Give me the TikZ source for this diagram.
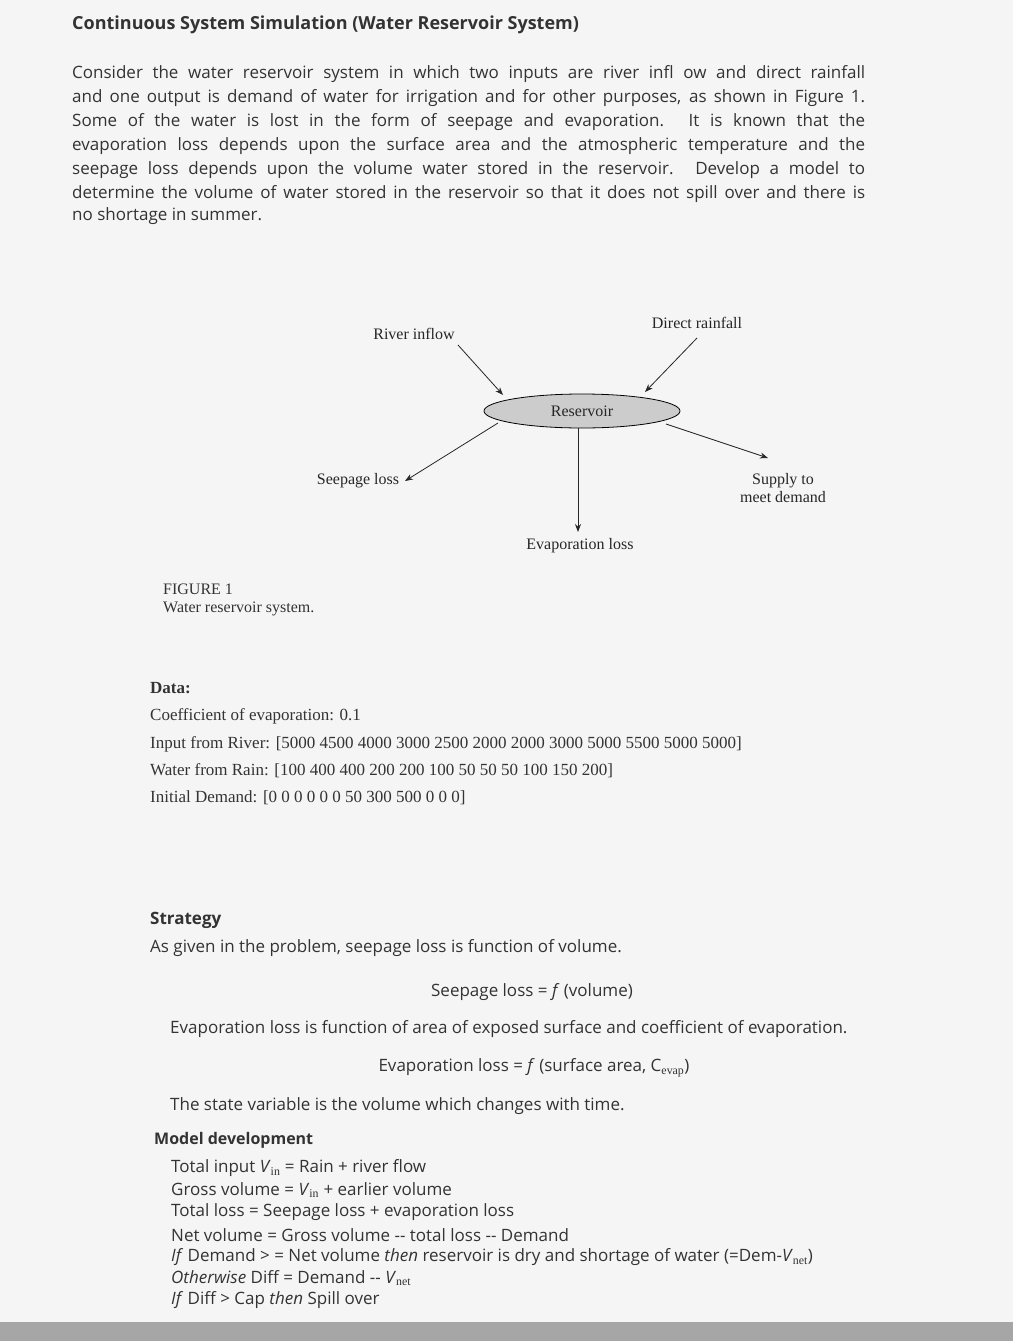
\documentclass[tikz,border=0pt]{standalone}
\usepackage{fontspec}
\setmainfont{Liberation Serif}
\newfontfamily\pf{Open Sans}
\usetikzlibrary{shapes.geometric,arrows.meta}
\newcommand{\jl}[1]{\makebox[793pt][s]{#1}}
\begin{document}
\begin{tikzpicture}[x=1pt,y=-1pt,
  para/.style={anchor=west,inner sep=0,font=\pf\fontsize{17}{20}\selectfont,text=black!80},
  dat/.style={anchor=west,inner sep=0,font=\fontsize{17}{20}\selectfont,text=black!80},
  lab/.style={inner sep=1pt,font=\fontsize{16}{18}\selectfont,text=black!85},
  arr/.style={-{Stealth[length=8pt]},thick,black!85}]
\fill[black!4] (0,0) rectangle (1013,1341);
\fill[black!35] (0,1322) rectangle (1013,1341);
\node[para,font=\pf\bfseries\fontsize{18}{20}\selectfont] (title) at (72,25) {Continuous System Simulation (Water Reservoir System)};
\node[para] (p1) at (72,74) {\jl{Consider the water reservoir system in which two inputs are river infl ow and direct rainfall}};
\node[para] (p2) at (72,98) {\jl{and one output is demand of water for irrigation and for other purposes, as shown in Figure 1.}};
\node[para] (p3) at (72,122) {\jl{Some of the water is lost in the form of seepage and evaporation. It is known that the}};
\node[para] (p4) at (72,146) {\jl{evaporation loss depends upon the surface area and the atmospheric temperature and the}};
\node[para] (p5) at (72,170) {\jl{seepage loss depends upon the volume water stored in the reservoir. Develop a model to}};
\node[para] (p6) at (72,194) {\jl{determine the volume of water stored in the reservoir so that it does not spill over and there is}};
\node[para] (p7) at (72,216) {no shortage in summer.};
% diagram
\node[ellipse,draw,thick,fill=black!20,minimum width=196pt,minimum height=34pt,lab] (res) at (582,411) {Reservoir};
\node[lab] (river) at (414,334) {River inflow};
\node[lab] (rain) at (697,323) {Direct rainfall};
\node[lab] (seep) at (358,481) {Seepage loss};
\node[lab,align=center] (sup) at (783,488) {Supply to\\meet demand};
\node[lab] (evap) at (580,546) {Evaporation loss};
\coordinate (r1) at (458,345); \coordinate (r2) at (503,395);
\coordinate (d1) at (697,338); \coordinate (d2) at (645,392);
\coordinate (s1) at (498,423); \coordinate (s2) at (405,481);
\coordinate (u1) at (666,424); \coordinate (u2) at (768,458);
\coordinate (e1) at (578,428); \coordinate (e2) at (578,532);
\draw[arr] (r1) -- (r2);
\draw[arr] (d1) -- (d2);
\draw[arr] (s1) -- (s2);
\draw[arr] (u1) -- (u2);
\draw[arr] (e1) -- (e2);
\node[dat,font=\fontsize{16}{17}\selectfont] (fig) at (163,589) {FIGURE 1};
\node[dat,font=\fontsize{16}{17}\selectfont] (fig2) at (163,609) {Water reservoir system.};
% data
\node[dat,font=\bfseries\fontsize{17}{20}\selectfont] (data) at (150,688) {Data:};
\node[dat] (d1t) at (150,716) {Coefficient of evaporation: 0.1};
\node[dat] (d2t) at (150,744) {Input from River: [5000 4500 4000 3000 2500 2000 2000 3000 5000 5500 5000 5000]};
\node[dat] (d3t) at (150,771) {Water from Rain: [100 400 400 200 200 100 50 50 50 100 150 200]};
\node[dat] (d4t) at (150,798) {Initial Demand: [0 0 0 0 0 0 50 300 500 0 0 0]};
% strategy
\node[para,font=\pf\bfseries\fontsize{17}{20}\selectfont] (str) at (150,920) {Strategy};
\node[para] (s1t) at (150,948) {As given in the problem, seepage loss is function of volume.};
\node[para,anchor=center] (s2t) at (532,992) {Seepage loss = \textit{f} (volume)};
\node[para] (s3t) at (170,1029) {Evaporation loss is function of area of exposed surface and coefficient of evaporation.};
\node[para,anchor=center] (s4t) at (534,1068) {Evaporation loss = \textit{f} (surface area, C$_{\mathrm{evap}}$)};
\node[para] (s5t) at (170,1106) {The state variable is the volume which changes with time.};
\node[para,font=\pf\bfseries\fontsize{16}{20}\selectfont] (md) at (154,1140) {Model development};
\node[para] (m1) at (171,1168) {Total input \textit{V}$_{\mathrm{in}}$ = Rain + river flow};
\node[para] (m2) at (171,1190) {Gross volume = \textit{V}$_{\mathrm{in}}$ + earlier volume};
\node[para] (m3) at (171,1212) {Total loss = Seepage loss + evaporation loss};
\node[para] (m4) at (171,1235) {Net volume = Gross volume -- total loss -- Demand};
\node[para] (m5) at (171,1257) {\textit{If} Demand > = Net volume \textit{then} reservoir is dry and shortage of water (=Dem-\textit{V}$_{\mathrm{net}}$)};
\node[para] (m6) at (171,1278) {\textit{Otherwise} Diff = Demand -- \textit{V}$_{\mathrm{net}}$};
\node[para] (m7) at (171,1300) {\textit{If} Diff > Cap \textit{then} Spill over};
\end{tikzpicture}
\end{document}
